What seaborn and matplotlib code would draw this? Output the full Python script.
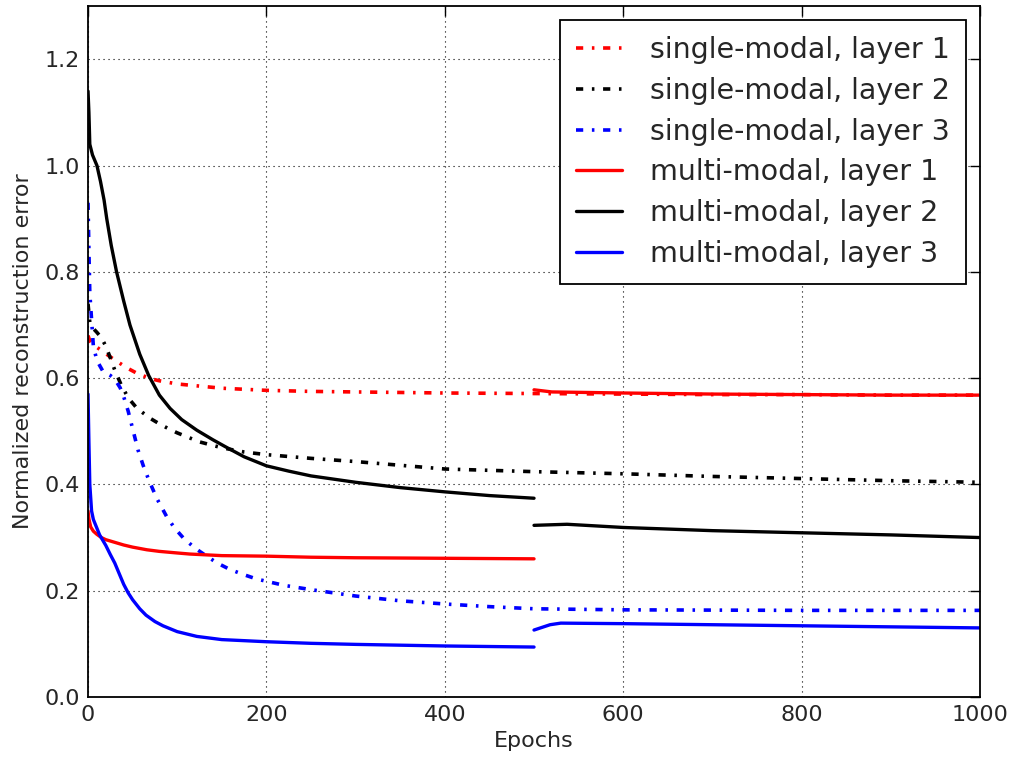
import matplotlib
matplotlib.use("Agg")
import matplotlib.pyplot as plt
import numpy as np
import pandas as pd
import seaborn as sns

# erro de reconstrução normalizado
ep_sm1 = [0, 2, 5, 10, 15, 20, 30, 45, 55, 70, 80, 90, 100, 125, 150, 175, 200, 250, 300, 400, 500, 600, 700, 800, 900, 1000]
sm1 = [0.68, 0.67, 0.665, 0.658, 0.652, 0.646, 0.634, 0.618, 0.609, 0.599, 0.595, 0.592, 0.589, 0.585, 0.581, 0.579,
       0.577, 0.575, 0.574, 0.572, 0.571, 0.570, 0.569, 0.569, 0.568, 0.568]

ep_sm2 = [0, 2, 5, 10, 15, 20, 25, 30, 37, 45, 55, 70, 80, 90, 100, 125, 150, 175, 200, 250, 300, 400, 500, 600,
          700, 800, 900, 1000]
sm2 = [0.74, 0.705, 0.695, 0.686, 0.676, 0.660, 0.638, 0.615, 0.588, 0.563, 0.543, 0.524, 0.514, 0.505, 0.497, 0.480,
       0.469, 0.461, 0.456, 0.449, 0.443, 0.429, 0.424, 0.420, 0.415, 0.411, 0.407, 0.404]

ep_sm3 = [0, 1, 2, 4, 6, 10, 17, 25, 30, 36, 40, 45, 50, 56, 62, 68, 77, 88, 97, 107, 120, 133, 145, 159, 175, 189,
          220, 250, 300, 350, 400, 450, 500, 600, 800, 1000]
sm3 = [0.93, 0.84, 0.76, 0.71, 0.66, 0.633, 0.612, 0.605, 0.598, 0.582, 0.565, 0.538, 0.505, 0.465, 0.435, 0.409,
       0.374, 0.340, 0.318, 0.299, 0.280, 0.265, 0.252, 0.240, 0.230, 0.222, 0.210, 0.202, 0.190, 0.181, 0.175,
       0.170, 0.166, 0.164, 0.163, 0.163]

# multi-modal: duas fases (0-500 e 500-1000)
ep_mm1_a = [0, 1, 3, 6, 10, 15, 20, 28, 40, 50, 66, 80, 100, 114, 150, 200, 250, 300, 400, 500]
mm1_a = [0.35, 0.335, 0.32, 0.312, 0.306, 0.300, 0.296, 0.292, 0.286, 0.282, 0.277, 0.274, 0.271, 0.269, 0.266,
         0.265, 0.263, 0.262, 0.261, 0.260]
ep_mm1_b = [500, 520, 600, 700, 800, 900, 1000]
mm1_b = [0.578, 0.574, 0.572, 0.570, 0.569, 0.568, 0.568]

ep_mm2_a = [0, 1, 2, 5, 10, 14, 18, 21, 26, 32, 40, 47, 52, 58, 68, 80, 92, 105, 122, 140, 155, 175, 200, 225,
            250, 300, 350, 400, 450, 500]
mm2_a = [1.14, 1.10, 1.04, 1.02, 1.0, 0.97, 0.935, 0.90, 0.85, 0.80, 0.745, 0.70, 0.675, 0.645, 0.605, 0.568,
         0.543, 0.522, 0.502, 0.484, 0.470, 0.452, 0.435, 0.425, 0.416, 0.404, 0.394, 0.386, 0.379, 0.374]
ep_mm2_b = [500, 537, 600, 700, 800, 900, 1000]
mm2_b = [0.323, 0.325, 0.319, 0.313, 0.309, 0.305, 0.300]

ep_mm3_a = [0, 1, 2, 4, 6, 13, 20, 25, 30, 35, 40, 45, 50, 58, 65, 75, 84, 100, 122, 150, 200, 250, 300, 400, 500]
mm3_a = [0.57, 0.48, 0.40, 0.35, 0.334, 0.305, 0.285, 0.268, 0.252, 0.232, 0.212, 0.196, 0.183, 0.166, 0.154,
         0.142, 0.134, 0.123, 0.114, 0.108, 0.104, 0.101, 0.099, 0.096, 0.094]
ep_mm3_b = [500, 518, 530, 600, 700, 800, 900, 1000]
mm3_b = [0.126, 0.136, 0.139, 0.138, 0.136, 0.134, 0.132, 0.130]

labels = ['single-modal, layer 1', 'single-modal, layer 2', 'single-modal, layer 3',
          'multi-modal, layer 1', 'multi-modal, layer 2', 'multi-modal, layer 3']
cores = ['red', 'black', 'blue']

sns.set_theme(style="white")
plt.rcParams['font.family'] = ['DejaVu Sans']

fig = plt.figure(figsize=(10.14, 7.62), dpi=100)
ax = fig.add_axes([0.0868, 0.0853, 0.8797, 0.9067])

dashdot = (0, (2.0, 2.4, 0.7, 2.4))

# curvas single-modal
for x, y, c, lab in zip([ep_sm1, ep_sm2, ep_sm3], [sm1, sm2, sm3], cores, labels[:3]):
    sns.lineplot(x=x, y=y, ax=ax, color=c, lw=2.6, linestyle=dashdot, label=lab)

# curvas multi-modal
mm = [(ep_mm1_a, mm1_a, ep_mm1_b, mm1_b), (ep_mm2_a, mm2_a, ep_mm2_b, mm2_b), (ep_mm3_a, mm3_a, ep_mm3_b, mm3_b)]
for (xa, ya, xb, yb), c, lab in zip(mm, cores, labels[3:]):
    sns.lineplot(x=xa, y=ya, ax=ax, color=c, lw=2.4, label=lab)
    sns.lineplot(x=xb, y=yb, ax=ax, color=c, lw=2.4)

ax.set_xlim(0, 1000)
ax.set_ylim(0, 1.3)
ax.set_xticks(np.arange(0, 1001, 200))
ax.set_yticks(np.arange(0, 1.21, 0.2))
ax.set_yticklabels([f"{v:.1f}" for v in np.arange(0, 1.21, 0.2)])
ax.set_xlabel('Epochs', fontsize=16, labelpad=4)
ax.set_ylabel('Normalized reconstruction error', fontsize=16, labelpad=8)

ax.grid(True, color='black', linestyle=(0, (1, 3.5)), linewidth=0.8)
ax.tick_params(direction='in', length=7, width=1, top=True, right=True, labelsize=16, pad=6, color='black')
for s in ax.spines.values():
    s.set_color('black')
    s.set_linewidth(1.3)

leg = ax.legend(loc='upper right', fontsize=20.5, frameon=True, fancybox=False, framealpha=1,
                edgecolor='black', handlelength=1.6, handletextpad=1.0, labelspacing=0.45,
                borderpad=0.55, borderaxespad=0.5)
leg.get_frame().set_linewidth(1.3)

fig.savefig('out.png', dpi=100, facecolor='white')
